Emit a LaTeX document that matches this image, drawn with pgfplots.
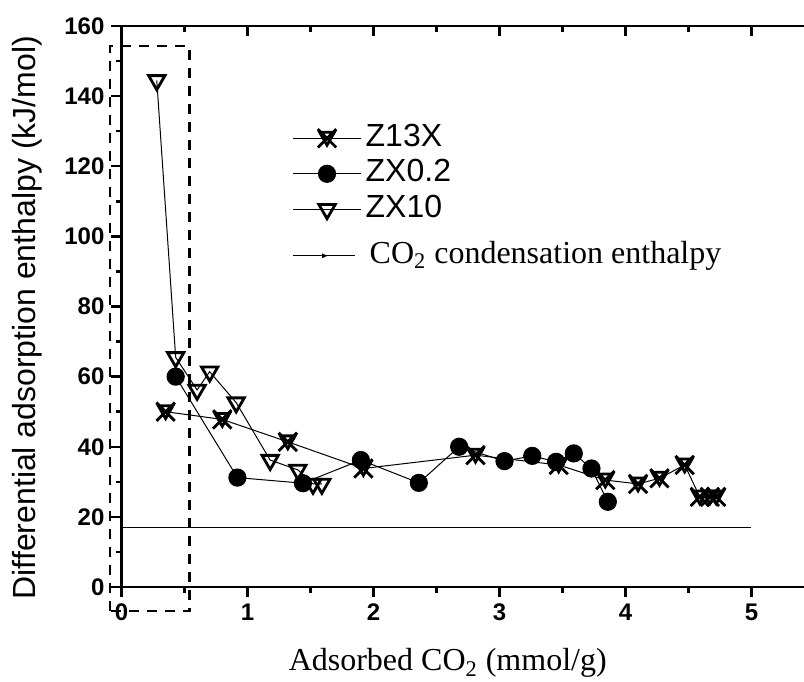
\documentclass[border=0pt]{standalone}
\usepackage{fontspec}
\setmainfont{Liberation Sans}
\newfontfamily\tnr{Liberation Serif}
\usepackage{pgfplots}
\pgfplotsset{compat=1.18}
\usetikzlibrary{arrows.meta}

\pgfdeclareplotmark{xtri}{%
  \pgfpathmoveto{\pgfqpoint{-\pgfplotmarksize}{-\pgfplotmarksize}}%
  \pgfpathlineto{\pgfqpoint{\pgfplotmarksize}{\pgfplotmarksize}}%
  \pgfpathmoveto{\pgfqpoint{-\pgfplotmarksize}{\pgfplotmarksize}}%
  \pgfpathlineto{\pgfqpoint{\pgfplotmarksize}{-\pgfplotmarksize}}%
  \pgfpathmoveto{\pgfqpoint{-0.8\pgfplotmarksize}{0.65\pgfplotmarksize}}%
  \pgfpathlineto{\pgfqpoint{0.8\pgfplotmarksize}{0.65\pgfplotmarksize}}%
  \pgfpathlineto{\pgfqpoint{0pt}{-0.75\pgfplotmarksize}}%
  \pgfpathclose
  \pgfusepathqstroke
}

\pgfplotsset{
  legend image code/.code={%
    \draw[mark repeat=2,mark phase=2,#1] plot coordinates {(0cm,0cm)(0.6cm,0cm)(1.2cm,0cm)};}
}

\begin{document}
\begin{tikzpicture}
\begin{axis}[
  at={(0pt,0pt)}, anchor=south west,
  scale only axis, width=341.25pt, height=280.5pt,
  xmin=0, xmax=5.417, ymin=0, ymax=160,
  axis x line*=bottom, axis y line*=left,
  axis line style={line width=1.2pt},
  xtick={0,1,2,3,4,5}, minor xtick={0.5,1.5,2.5,3.5,4.5},
  ytick={0,20,40,60,80,100,120,140,160},
  minor ytick={10,30,50,70,90,110,130,150},
  tick align=outside,
  major tick length=5pt, minor tick length=2.8pt,
  tick style={line width=1.2pt, black},
  /pgf/number format/assume math mode=true,
  ticklabel style={font=\bfseries\fontsize{12}{14}\selectfont},
  xlabel={\tnr Adsorbed CO\textsubscript{2} (mmol/g)},
  ylabel={Differential adsorption enthalpy (kJ/mol)},
  label style={font=\fontsize{16}{19}\selectfont},
  xlabel style={at={(axis description cs:0.478,-0.136)}, anchor=center},
  ylabel style={at={(axis description cs:-0.138,0.48)}, anchor=center},
  clip=false,
  legend style={draw=none, fill=none, at={(axis description cs:0.241,0.838)}, anchor=north west,
    font=\fontsize{16}{19}\selectfont, cells={anchor=west},
    nodes={text height=11.5pt, text depth=3.5pt, inner sep=1pt},
    row sep=0.75pt, column sep=1pt},
]
\addplot[black, line width=0.5pt, mark=xtri, mark size=4.6pt, mark options={line width=1.4pt}]
coordinates {(0.35,50) (0.80,47.8) (1.32,41.4) (1.92,33.8) (2.81,37.6) (3.47,34.8) (3.84,30.5) (4.10,29.4) (4.27,31.0) (4.47,34.8) (4.59,25.7) (4.67,25.7) (4.72,25.7)};
\addlegendentry{Z13X}
\addplot[black, line width=0.5pt, mark=*, mark size=4.3pt, mark options={fill=black}]
coordinates {(0.43,60) (0.92,31.2) (1.44,29.6) (1.90,36.2) (2.36,29.7) (2.68,40.0) (3.04,35.9) (3.26,37.4) (3.45,35.7) (3.59,38.1) (3.73,33.8) (3.86,24.3)};
\addlegendentry{ZX0.2}
\addplot[black, line width=0.5pt, mark=triangle, mark size=4.7pt, mark options={rotate=180, line width=1.4pt, fill=white}]
coordinates {(0.28,144.5) (0.43,65.5) (0.60,56.2) (0.70,61.4) (0.91,52.6) (1.18,36.2) (1.40,33.4) (1.52,29.4) (1.59,29.4)};
\addlegendentry{ZX10}
\addplot[black, line width=0.5pt, legend image code/.code={\draw[line width=0.5pt] (0cm,-5.5pt) -- (1.1cm,-5.5pt); \draw[line width=0.5pt,-{Latex[length=3pt,width=2.5pt]}] (0cm,-5.5pt) -- (0.62cm,-5.5pt);}]
coordinates {(0,17) (5,17)};
\addlegendentry{\raisebox{-5.5pt}{\tnr\hspace{2pt}CO\textsubscript{2} condensation enthalpy}}
\draw[dashed, line width=1.2pt, dash pattern=on 5pt off 4pt] (axis cs:-0.09,-6.8) rectangle (axis cs:0.54,154.3);
\end{axis}
\begin{axis}[
  at={(0pt,0pt)}, anchor=south west,
  scale only axis, width=341.25pt, height=280.5pt,
  xmin=0, xmax=5.417, ymin=0, ymax=160,
  axis x line*=top, axis y line=none,
  axis line style={line width=1.2pt},
  xtick={0,1,2,3,4,5}, minor xtick={0.5,1.5,2.5,3.5,4.5},
  xticklabels={}, tick align=inside,
  major tick length=5pt, minor tick length=2.8pt,
  tick style={line width=1.2pt, black},
]
\end{axis}
\pgfresetboundingbox
\useasboundingbox (-60.75pt,-47pt) rectangle (341.25pt,293.5pt);
\end{tikzpicture}
\end{document}
